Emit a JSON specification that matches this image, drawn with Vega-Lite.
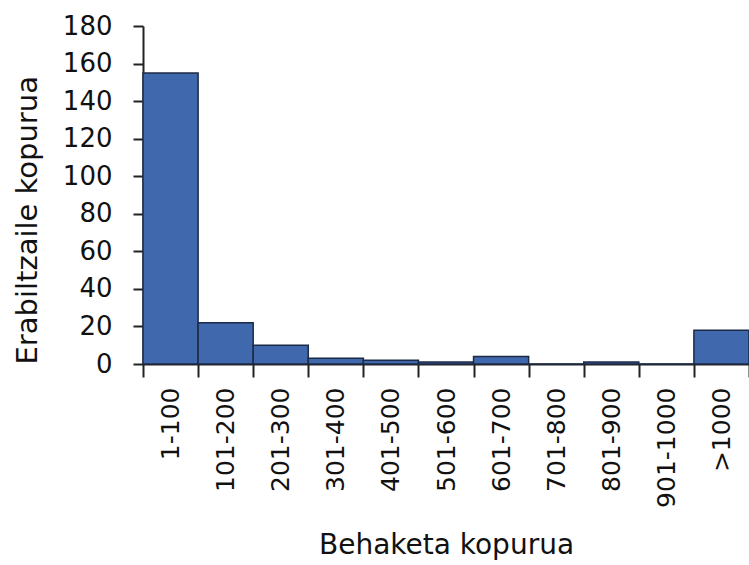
{
  "$schema": "https://vega.github.io/schema/vega-lite/v6.json",
  "autosize": "none",
  "width": 606,
  "height": 338,
  "padding": {"left": 143, "top": 26, "right": 0, "bottom": 201},
  "background": "white",
  "data": {
    "values": [
      {"bin": "1-100", "count": 155},
      {"bin": "101-200", "count": 22},
      {"bin": "201-300", "count": 10},
      {"bin": "301-400", "count": 3},
      {"bin": "401-500", "count": 2},
      {"bin": "501-600", "count": 1},
      {"bin": "601-700", "count": 4},
      {"bin": "701-800", "count": 0},
      {"bin": "801-900", "count": 1},
      {"bin": "901-1000", "count": 0},
      {"bin": ">1000", "count": 18}
    ]
  },
  "mark": {"type": "bar", "fill": "#4068ad", "stroke": "#1d2a45", "strokeWidth": 1.5},
  "encoding": {
    "x": {
      "field": "bin",
      "type": "nominal",
      "sort": null,
      "scale": {"paddingInner": 0, "paddingOuter": 0},
      "axis": {
        "title": "Behaketa kopurua",
        "titleFont": "DejaVu Sans",
        "titleFontSize": 28,
        "titleFontWeight": "normal",
        "titleColor": "#111",
        "titlePadding": 24,
        "labelFont": "DejaVu Sans",
        "labelFontSize": 25,
        "labelColor": "#111",
        "labelAngle": -90,
        "labelPadding": 10,
        "tickBand": "extent",
        "tickSize": 13,
        "tickWidth": 2,
        "tickColor": "#222",
        "domainColor": "#222",
        "domainWidth": 2
      }
    },
    "y": {
      "field": "count",
      "type": "quantitative",
      "scale": {"domain": [0, 180], "nice": false},
      "axis": {
        "title": "Erabiltzaile kopurua",
        "titleFont": "DejaVu Sans",
        "titleFontSize": 29,
        "titleFontWeight": "normal",
        "titleColor": "#111",
        "titleAnchor": "start",
        "titlePadding": 20,
        "labelFont": "DejaVu Sans",
        "labelFontSize": 26,
        "labelColor": "#111",
        "labelPadding": 21,
        "values": [0, 20, 40, 60, 80, 100, 120, 140, 160, 180],
        "grid": false,
        "tickSize": 10,
        "tickWidth": 2,
        "tickColor": "#222",
        "domainColor": "#222",
        "domainWidth": 2
      }
    }
  },
  "config": {"view": {"stroke": null}}
}
